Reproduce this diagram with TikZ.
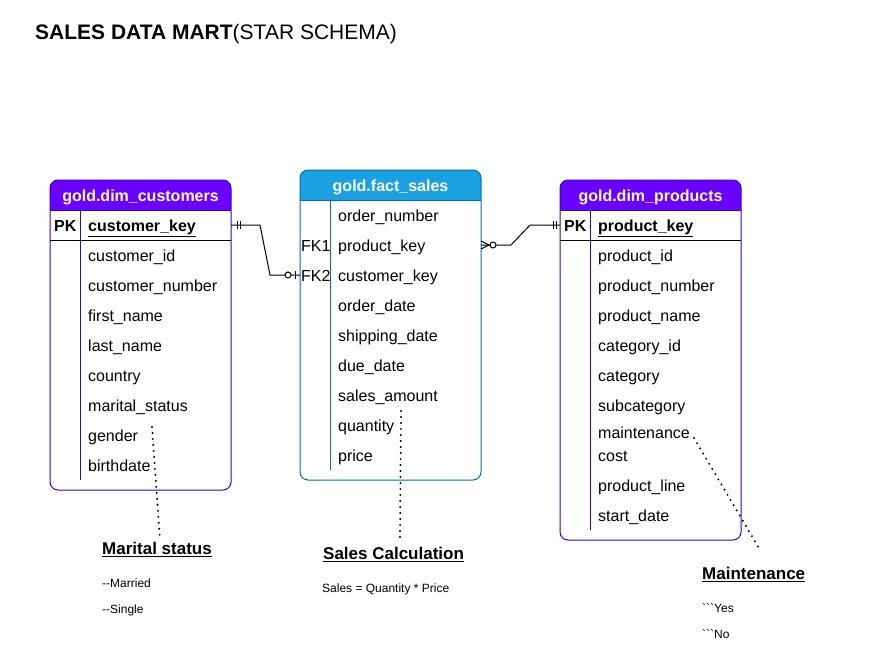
\documentclass[tikz,border=0pt]{standalone}
\usepackage{fontspec}
\setmainfont{Liberation Sans}[Ligatures=TeXOff]
\definecolor{vio}{HTML}{6A00FF}
\definecolor{viob}{HTML}{3700CC}
\definecolor{blu}{HTML}{1BA1E2}
\definecolor{blub}{HTML}{006EAF}
\begin{document}
\begin{tikzpicture}[x=1pt,y=-1pt,
 fld/.style={anchor=west,inner sep=0pt,font=\fontsize{16}{19}\selectfont, text height=11.5pt, text depth=0pt, yshift=-0.8pt},
 hdr/.style={text=white,font=\fontsize{16}{19}\selectfont\bfseries,inner sep=0pt, text height=11.5pt, text depth=0pt, yshift=-0.8pt},
 small/.style={anchor=west,inner sep=0pt,font=\fontsize{12}{14}\selectfont, text height=8.6pt, text depth=0pt, yshift=-0.6pt},
 note/.style={anchor=west,inner sep=0pt,font=\fontsize{17}{20}\selectfont\bfseries, text height=12.2pt, text depth=0pt, yshift=-0.8pt},
 rel/.style={line width=1pt},
 dots/.style={line width=2.2pt, dash pattern=on 0pt off 6pt, line cap=round}]
\useasboundingbox (0,0) rectangle (880,653);

% title
\node[anchor=west,inner sep=0pt,font=\fontsize{21}{25}\selectfont, text height=15.2pt, text depth=0pt, yshift=-0.8pt] (title) at (35,31) {\textbf{SALES DATA MART}(STAR SCHEMA)};

% ---------- dim_customers ----------
\fill[vio, rounded corners=8] (50,180) rectangle (231,210);
\fill[vio] (50,198) rectangle (231,210);
\draw[viob, line width=1pt, rounded corners=8] (50,180) rectangle (231,490);
\draw[viob, line width=1pt] (50,210) -- (231,210);
\draw[black, line width=1pt] (50,240) -- (231,240);
\draw[viob, line width=1pt] (80,210) -- (80,480);
\node[hdr] (custH) at (140.5,195) {gold.dim\_customers};
\node[fld,font=\fontsize{16}{19}\selectfont\bfseries] (custPKl) at (54,225) {PK};
\node[fld,font=\fontsize{16}{19}\selectfont\bfseries] (custPKn) at (88,225) {\underline{customer\_key}};
\node[fld] (c1) at (88,255) {customer\_id};
\node[fld] (c2) at (88,285) {customer\_number};
\node[fld] (c3) at (88,315) {first\_name};
\node[fld] (c4) at (88,345) {last\_name};
\node[fld] (c5) at (88,375) {country};
\node[fld] (c6) at (88,405) {marital\_status};
\node[fld] (c7) at (88,435) {gender};
\node[fld] (c8) at (88,465) {birthdate};

% ---------- fact_sales ----------
\fill[blu, rounded corners=8] (300,170) rectangle (481,200);
\fill[blu] (300,188) rectangle (481,200);
\draw[blub, line width=1pt, rounded corners=8] (300,170) rectangle (481,480);
\draw[blub, line width=1pt] (300,200) -- (481,200);
\draw[blub, line width=1pt] (330,200) -- (330,470);
\node[hdr] (factH) at (390.5,185) {gold.fact\_sales};
\node[fld] (f1) at (338,215) {order\_number};
\node[fld] (fk1l) at (301,245) {FK1};
\node[fld] (f2) at (338,245) {product\_key};
\node[fld] (fk2l) at (301,275) {FK2};
\node[fld] (f3) at (338,275) {customer\_key};
\node[fld] (f4) at (338,305) {order\_date};
\node[fld] (f5) at (338,335) {shipping\_date};
\node[fld] (f6) at (338,365) {due\_date};
\node[fld] (f7) at (338,395) {sales\_amount};
\node[fld] (f8) at (338,425) {quantity};
\node[fld] (f9) at (338,455) {price};

% ---------- dim_products ----------
\fill[vio, rounded corners=8] (560,180) rectangle (741,210);
\fill[vio] (560,198) rectangle (741,210);
\draw[viob, line width=1pt, rounded corners=8] (560,180) rectangle (741,540);
\draw[viob, line width=1pt] (560,210) -- (741,210);
\draw[black, line width=1pt] (560,240) -- (741,240);
\draw[viob, line width=1pt] (590,210) -- (590,530);
\node[hdr] (prodH) at (650.5,195) {gold.dim\_products};
\node[fld,font=\fontsize{16}{19}\selectfont\bfseries] (prodPKl) at (564,225) {PK};
\node[fld,font=\fontsize{16}{19}\selectfont\bfseries] (prodPKn) at (598,225) {\underline{product\_key}};
\node[fld] (p1) at (598,255) {product\_id};
\node[fld] (p2) at (598,285) {product\_number};
\node[fld] (p3) at (598,315) {product\_name};
\node[fld] (p4) at (598,345) {category\_id};
\node[fld] (p5) at (598,375) {category};
\node[fld] (p6) at (598,405) {subcategory};
\node[fld] (p7) at (598,432) {maintenance};
\node[fld] (p7b) at (598,455) {cost};
\node[fld] (p8) at (598,485) {product\_line};
\node[fld] (p9) at (598,515) {start\_date};

% ---------- relationships ----------
\coordinate (custPK) at (231,225);
\coordinate (factFK2) at (300,275);
\coordinate (factFK1) at (481,245);
\coordinate (prodPK) at (560,225);

\draw[rel] (custPK) -- ++(29,0) -- ([xshift=-30pt]factFK2) -- (factFK2);
\draw[rel] ([xshift=6pt,yshift=-4pt]custPK) -- ([xshift=6pt,yshift=4pt]custPK);
\draw[rel] ([xshift=9pt,yshift=-4pt]custPK) -- ([xshift=9pt,yshift=4pt]custPK);
\draw[rel] ([xshift=-5pt,yshift=-4pt]factFK2) -- ([xshift=-5pt,yshift=4pt]factFK2);
\draw[rel, fill=white] ([xshift=-12pt]factFK2) circle[radius=3];

\draw[rel] (factFK1) -- ++(30,0) -- ([xshift=-30pt]prodPK) -- (prodPK);
\draw[rel] ([yshift=-4pt]factFK1) -- ([xshift=8pt]factFK1) -- ([yshift=4pt]factFK1);
\draw[rel, fill=white] ([xshift=12pt]factFK1) circle[radius=3];
\draw[rel] ([xshift=-7pt,yshift=-4pt]prodPK) -- ([xshift=-7pt,yshift=4pt]prodPK);
\draw[rel] ([xshift=-4pt,yshift=-4pt]prodPK) -- ([xshift=-4pt,yshift=4pt]prodPK);

% ---------- notes ----------
\node[note] (n1) at (102,548) {\underline{Marital status}};
\node[small] (n1a) at (102,583) {-{}-Married};
\node[small] (n1b) at (102,609) {-{}-Single};

\node[note] (n2) at (323,553) {\underline{Sales Calculation}};
\node[small] (n2a) at (322,588) {Sales = Quantity * Price};

\node[note] (n3) at (702,573) {\underline{Maintenance}};
\node[small] (n3a) at (702,608) {\symbol{96}\symbol{96}\symbol{96}Yes};
\node[small] (n3b) at (702,634) {\symbol{96}\symbol{96}\symbol{96}No};

\coordinate (d1a) at (152,427);
\coordinate (d1b) at (160,540);
\coordinate (d2a) at (401,411);
\coordinate (d2b) at (400,540);
\coordinate (d3a) at (694,438);
\coordinate (d3b) at (760,550);
\draw[dots] (d1a) -- (d1b);
\draw[dots] (d2a) -- (d2b);
\draw[dots] (d3a) -- (d3b);
\end{tikzpicture}
\end{document}
